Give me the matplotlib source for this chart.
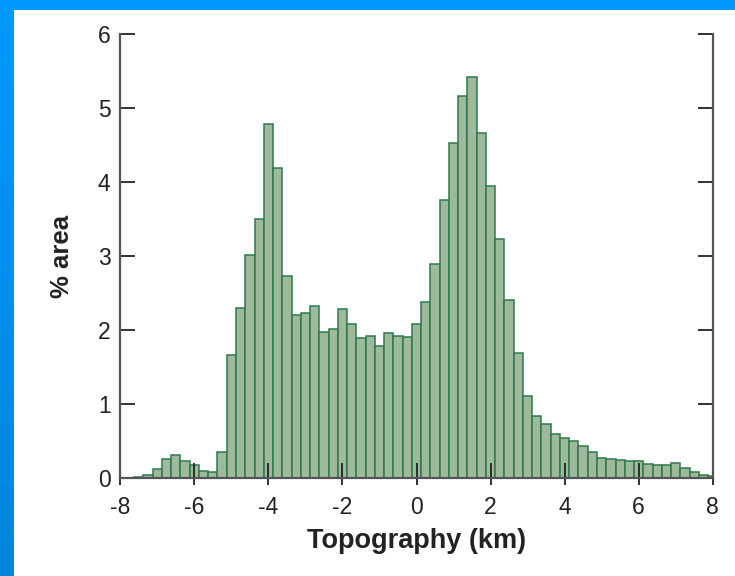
import numpy as np
import matplotlib
matplotlib.use("Agg")
import matplotlib.pyplot as plt
from matplotlib.ticker import FixedLocator
from matplotlib.colors import LinearSegmentedColormap

# ---- data ----
bin_centers = [-7.75, -7.5, -7.25, -7.0, -6.75, -6.5, -6.25, -6.0,
               -5.75, -5.5, -5.25, -5.0, -4.75, -4.5, -4.25, -4.0,
               -3.75, -3.5, -3.25, -3.0, -2.75, -2.5, -2.25, -2.0,
               -1.75, -1.5, -1.25, -1.0, -0.75, -0.5, -0.25, 0.0,
               0.25, 0.5, 0.75, 1.0, 1.25, 1.5, 1.75, 2.0,
               2.25, 2.5, 2.75, 3.0, 3.25, 3.5, 3.75, 4.0,
               4.25, 4.5, 4.75, 5.0, 5.25, 5.5, 5.75, 6.0,
               6.25, 6.5, 6.75, 7.0, 7.25, 7.5, 7.75, 8.0]
pct_area = [0.0, 0.02, 0.045, 0.13, 0.26, 0.32, 0.23, 0.18,
            0.10, 0.08, 0.35, 1.66, 2.30, 3.02, 3.51, 4.79,
            4.19, 2.73, 2.21, 2.23, 2.33, 1.98, 2.02, 2.29,
            2.09, 1.89, 1.92, 1.79, 1.97, 1.92, 1.91, 2.09,
            2.38, 2.90, 3.76, 4.53, 5.17, 5.42, 4.66, 3.95,
            3.23, 2.41, 1.69, 1.11, 0.84, 0.74, 0.60, 0.54,
            0.50, 0.44, 0.35, 0.28, 0.26, 0.25, 0.24, 0.24,
            0.20, 0.18, 0.18, 0.21, 0.135, 0.09, 0.05, 0.036]
bin_width = 0.25
x_ticks = [-8, -6, -4, -2, 0, 2, 4, 6, 8]
y_ticks = [0, 1, 2, 3, 4, 5, 6]
x_label = "Topography (km)"
y_label = "% area"

plt.rcParams['font.family'] = ['Liberation Sans', 'DejaVu Sans']
plt.rcParams['axes.unicode_minus'] = False

fig = plt.figure(figsize=(7.35, 5.76), dpi=100)
fig.patch.set_facecolor('white')

# blue frame (top + left strips)
W, H = 735.0, 576.0
top_ax = fig.add_axes([0, 1 - 10 / H, 1, 10 / H])
top_ax.set_axis_off()
top_ax.add_patch(plt.Rectangle((0, 0), 1, 1, color='#0099ff', transform=top_ax.transAxes))
left_ax = fig.add_axes([0, 0, 13 / W, 1])
left_ax.set_axis_off()
grad = np.linspace(0, 1, 256).reshape(-1, 1)
cmap = LinearSegmentedColormap.from_list('b', ['#0086dc', '#0099ff'])
left_ax.imshow(grad, aspect='auto', cmap=cmap, origin='lower', extent=[0, 1, 0, 1])

ax = fig.add_axes([120.3 / W, (H - 478.3) / H, 592.4 / W, 444.0 / H])
ax.bar(bin_centers, pct_area, width=bin_width, color='#9eb99b',
       edgecolor='#2d7a4e', linewidth=1.1, align='center')

ax.set_xlim(-8, 8)
ax.set_ylim(0, 6)
ax.xaxis.remove_overlapping_locs = False
ax.set_xticks(x_ticks)
ax.xaxis.set_minor_locator(FixedLocator(x_ticks))
ax.set_yticks(y_ticks)

spine_col = '#555555'
ax.spines['top'].set_visible(False)
for s in ['left', 'right', 'bottom']:
    ax.spines[s].set_color(spine_col)
    ax.spines[s].set_linewidth(1.6)

ax.tick_params(axis='y', which='major', direction='in', length=11, width=1.3,
               color='#222222', left=True, right=True, labelsize=16.5,
               pad=7, labelcolor='#222222')
ax.tick_params(axis='x', which='major', direction='in', length=11, width=1.3,
               color='#222222', labelsize=16.5, pad=13, labelcolor='#222222')
ax.tick_params(axis='x', which='minor', direction='out', length=5, width=1.3,
               color='#222222')

ax.set_xlabel(x_label, fontsize=19.5, fontweight='bold', color='#222222', labelpad=6)
ax.set_ylabel(y_label, fontsize=18.5, fontweight='bold', color='#222222', labelpad=17)

fig.savefig('out.png', dpi=100)
